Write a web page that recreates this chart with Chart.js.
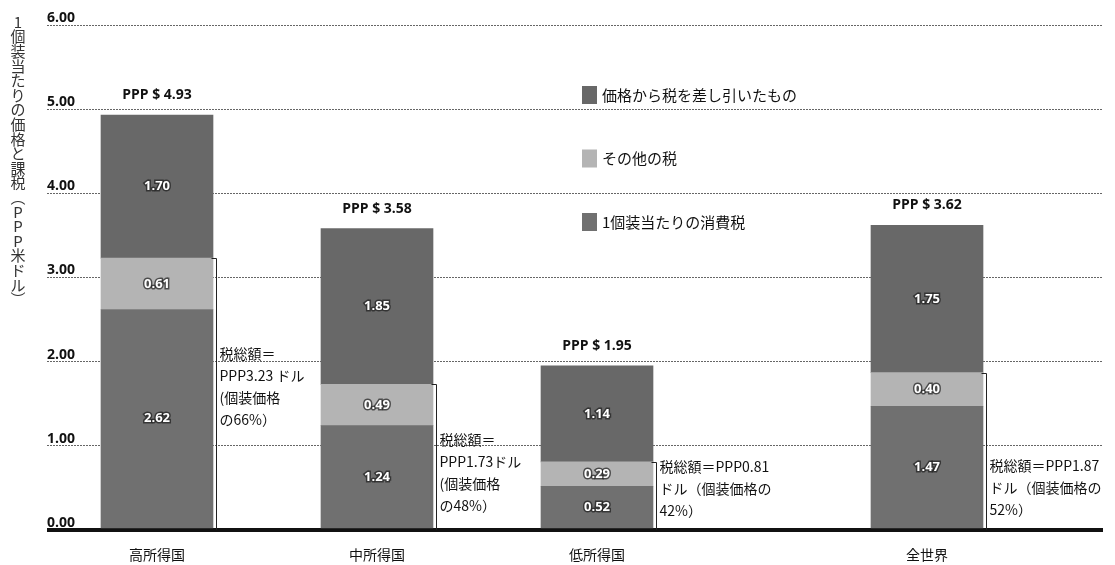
<!DOCTYPE html>
<html lang="ja">
<head>
<meta charset="utf-8">
<script src="https://cdn.jsdelivr.net/npm/chart.js@4/dist/chart.umd.min.js"></script>
<style>
  html, body { margin: 0; padding: 0; background: #fff; }
  #wrap { width: 1115px; height: 565px; }
</style>
</head>
<body>
<div id="wrap"><canvas id="chart" width="1115" height="565"></canvas></div>
<script>
const categories = ["高所得国", "中所得国", "低所得国", "全世界"];
const categoryPos = [0, 1, 2, 3.5];
const exciseTax = [2.62, 1.24, 0.52, 1.47];
const otherTax = [0.61, 0.49, 0.29, 0.40];
const priceExTax = [1.70, 1.85, 1.14, 1.75];
const yTicks = [0, 1, 2, 3, 4, 5, 6];
const yTitle = ["1", "個", "装", "当", "た", "り", "の", "価", "格", "と", "課", "税", "︵", "P", "P", "P", "米", "ド", "ル", "︶"];

// {t} = total tax, {p} = share of pack price
const taxNoteLines = [
  ["税総額＝", "PPP{t} ドル", "(個装価格", "の{p}%）"],
  ["税総額＝", "PPP{t}ドル", "(個装価格", "の{p}%）"],
  ["税総額＝PPP{t}", "ドル（個装価格の", "{p}%）"],
  ["税総額＝PPP{t}", "ドル（個装価格の", "{p}%）"]
];
// first text line of each note, in axis units
const taxNoteAt = [2.10, 1.07, 0.75, 0.76];

const JP = '"Noto Sans CJK JP", "Noto Sans", sans-serif';
const NUM = '"Open Sans", "Noto Sans", sans-serif';

const toPoints = arr => arr.map((v, i) => ({ x: categoryPos[i], y: v }));

const datasets = [
  { label: "1個装当たりの消費税", data: toPoints(exciseTax), backgroundColor: "#707070" },
  { label: "その他の税", data: toPoints(otherTax), backgroundColor: "#b4b4b4" },
  { label: "価格から税を差し引いたもの", data: toPoints(priceExTax), backgroundColor: "#686868" }
].map(d => Object.assign(d, { barThickness: 112, borderWidth: 0 }));

const overlay = {
  id: "overlay",
  afterDatasetsDraw(chart) {
    const { ctx, scales: { x, y } } = chart;
    const half = 56;
    ctx.save();

    // values inside each segment
    ctx.font = `bold 13px ${NUM}`;
    ctx.textAlign = "center";
    ctx.textBaseline = "middle";
    chart.data.datasets.forEach((ds, di) => {
      chart.getDatasetMeta(di).data.forEach((bar, i) => {
        const cy = (bar.y + bar.base) / 2;
        const txt = ds.data[i].y.toFixed(2);
        ctx.lineWidth = 3;
        ctx.strokeStyle = "rgba(30,30,30,0.7)";
        ctx.strokeText(txt, bar.x, cy);
        ctx.fillStyle = "#fff";
        ctx.fillText(txt, bar.x, cy);
      });
    });

    // totals above bars
    ctx.font = `bold 14px ${NUM}`;
    ctx.fillStyle = "#111";
    categoryPos.forEach((p, i) => {
      const total = exciseTax[i] + otherTax[i] + priceExTax[i];
      ctx.fillText(`PPP $ ${total.toFixed(2)}`, x.getPixelForValue(p), y.getPixelForValue(total) - 20);
    });

    // tax brackets and notes
    ctx.strokeStyle = "#222";
    ctx.lineWidth = 1;
    ctx.textAlign = "left";
    ctx.font = `14px ${JP}`;
    categoryPos.forEach((p, i) => {
      const tax = exciseTax[i] + otherTax[i];
      const total = tax + priceExTax[i];
      const right = Math.round(x.getPixelForValue(p) + half) + 0.5;
      const top = Math.round(y.getPixelForValue(tax)) + 0.5;
      ctx.beginPath();
      ctx.moveTo(right - 2, top);
      ctx.lineTo(right + 3, top);
      ctx.lineTo(right + 3, y.getPixelForValue(0));
      ctx.stroke();
      const pct = Math.round(tax / total * 100);
      let ty = y.getPixelForValue(taxNoteAt[i]);
      taxNoteLines[i].forEach(line => {
        ctx.fillText(line.replace("{t}", tax.toFixed(2)).replace("{p}", pct), right + 6, ty);
        ty += 22;
      });
    });

    // legend, top segment first
    const rows = [2, 1, 0];
    rows.forEach((di, r) => {
      const ds = chart.data.datasets[di];
      const cy = 95 + r * 63.5;
      ctx.fillStyle = ds.backgroundColor;
      ctx.fillRect(582, cy - 9, 15, 18);
      ctx.fillStyle = "#111";
      ctx.font = `15px ${JP}`;
      ctx.fillText(ds.label, 602, cy);
    });

    // vertical axis title, upright characters
    ctx.textAlign = "center";
    ctx.font = `15px ${JP}`;
    ctx.fillStyle = "#333";
    yTitle.forEach((ch, k) => ctx.fillText(ch, 18, 22 + k * 14.6));

    ctx.restore();
  }
};

new Chart(document.getElementById("chart"), {
  type: "bar",
  data: { datasets },
  options: {
    responsive: false,
    animation: false,
    layout: { padding: { top: 25, right: 12, left: 0, bottom: 0 } },
    plugins: { legend: { display: false }, tooltip: { enabled: false } },
    scales: {
      x: {
        type: "linear",
        stacked: true,
        offset: false,
        min: -0.5,
        max: 4.3,
        grid: { display: false },
        border: { display: false },
        afterBuildTicks: s => { s.ticks = categoryPos.map(v => ({ value: v })); },
        afterFit: s => { s.height = 35; },
        ticks: {
          autoSkip: false,
          maxRotation: 0,
          padding: 8,
          color: "#111",
          font: { family: JP, size: 14 },
          callback: (v, i) => categories[i]
        }
      },
      y: {
        stacked: true,
        min: 0,
        max: 6,
        afterBuildTicks: s => { s.ticks = yTicks.map(v => ({ value: v })); },
        afterFit: s => { s.width = 47; },
        // zero line solid and heavy, the rest fine dotted
        border: { display: false, dash: c => c.tick && c.tick.value === 0 ? [] : [2, 1] },
        grid: {
          drawTicks: false,
          color: c => c.tick.value === 0 ? "#111" : "#666",
          lineWidth: c => c.tick.value === 0 ? 4 : 1
        },
        ticks: {
          mirror: true,
          padding: 0,
          labelOffset: -7,
          color: "#111",
          font: { family: NUM, size: 14, weight: "bold" },
          callback: v => v.toFixed(2)
        }
      }
    }
  },
  plugins: [overlay]
});
</script>
</body>
</html>
